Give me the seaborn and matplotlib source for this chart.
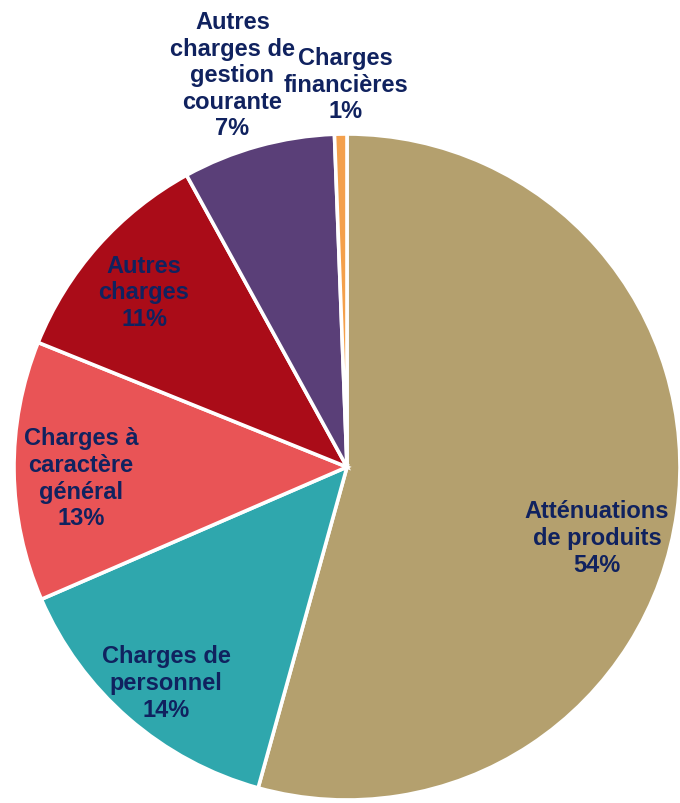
import numpy as np
import matplotlib
matplotlib.use("Agg")
import matplotlib.pyplot as plt
import seaborn as sns

# Budget breakdown of expenditure (share of total, %)
categories = [
    "Atténuations\nde produits",
    "Charges de\npersonnel",
    "Charges à\ncaractère\ngénéral",
    "Autres\ncharges",
    "Autres\ncharges de\ngestion\ncourante",
    "Charges\nfinancières",
]
shares = [54.3, 14.2, 12.6, 10.9, 7.4, 0.6]
slice_colors = ["#B4A06E", "#2FA7AD", "#E95456", "#AA0C18", "#5A3F78", "#F4A04B"]

# label placement: radial distance (in radii) and small angular nudge (deg)
label_radius = [0.78, 0.845, 0.80, 0.805, 1.227, 1.15]
label_nudge = [-8.0, 1.0, 1.6, 0.8, 0.8, -0.9]

sns.set_theme(style="white")
plt.rcParams["font.family"] = ["Liberation Sans", "DejaVu Sans"]

fig = plt.figure(figsize=(6.8, 8.04), dpi=100)
ax = fig.add_axes([0, 0, 1, 1])
palette = sns.color_palette(slice_colors)

wedges, _ = ax.pie(
    shares,
    colors=palette,
    startangle=90,
    counterclock=False,
    radius=1.0,
    wedgeprops=dict(edgecolor="white", linewidth=2.6),
)

text_color = "#10225F"
total = sum(shares)
for w, name, val, r, nudge in zip(wedges, categories, shares, label_radius, label_nudge):
    mid = np.deg2rad((w.theta1 + w.theta2) / 2 + nudge)
    x, y = r * np.cos(mid), r * np.sin(mid)
    ax.text(x, y, f"{name}\n{val / total * 100:.0f}%", ha="center", va="center",
            fontsize=17, fontweight="bold", color=text_color, linespacing=1.2)

px = 333.0
ax.set_xlim(-347 / px, (680 - 347) / px)
ax.set_ylim(-(804 - 468) / px, 468 / px)
ax.set_aspect("equal")
ax.axis("off")

fig.savefig("out.png", dpi=100, facecolor="white")
